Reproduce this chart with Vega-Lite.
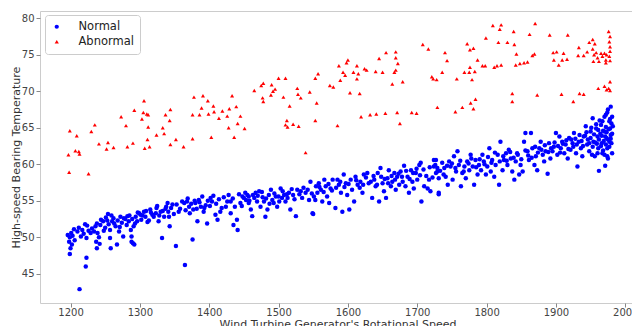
{
  "$schema": "https://vega.github.io/schema/vega-lite/v6.json",
  "width": 595,
  "height": 292,
  "autosize": {"type": "none"},
  "padding": {"left": 40, "top": 11, "right": 0, "bottom": 23},
  "background": "white",
  "config": {
    "font": "DejaVu Sans",
    "view": {"stroke": "#cccccc", "strokeWidth": 1},
    "axis": {"grid": false, "domain": false, "labelFontSize": 10, "labelColor": "#444444", "tickColor": "#888888", "tickSize": 4, "labelPadding": 2, "titleFontSize": 11, "titleFontWeight": "normal", "titleColor": "#333333"}
  },
  "datasets": {
    "normal": [
{"x":1213,"y":42.9},{"x":1222,"y":46.0},{"x":1223,"y":47.2},{"x":1199,"y":47.7},{"x":1200,"y":48.5},{"x":1202,"y":49.0},{"x":1198,"y":49.4},{"x":1196,"y":50.3},{"x":1199,"y":50.0},{"x":1201,"y":50.6},{"x":1205,"y":51.1},{"x":1210,"y":50.8},{"x":1217,"y":51.0},{"x":1219,"y":50.5},{"x":1223,"y":49.9},{"x":1224,"y":51.6},{"x":1229,"y":50.6},{"x":1234,"y":50.8},{"x":1236,"y":51.5},{"x":1238,"y":51.9},{"x":1243,"y":51.7},{"x":1237,"y":49.4},{"x":1238,"y":48.5},{"x":1242,"y":49.1},{"x":1241,"y":50.0},{"x":1247,"y":52.2},{"x":1250,"y":51.3},{"x":1254,"y":53.2},{"x":1253,"y":52.3},{"x":1257,"y":51.0},{"x":1257,"y":49.9},{"x":1258,"y":48.5},{"x":1260,"y":52.2},{"x":1262,"y":52.6},{"x":1265,"y":51.5},{"x":1267,"y":49.0},{"x":1270,"y":50.8},{"x":1272,"y":52.8},{"x":1274,"y":52.0},{"x":1276,"y":50.1},{"x":1279,"y":52.5},{"x":1282,"y":52.9},{"x":1284,"y":52.2},{"x":1287,"y":51.0},{"x":1288,"y":50.1},{"x":1288,"y":49.4},{"x":1290,"y":49.2},{"x":1292,"y":49.0},{"x":1291,"y":51.5},{"x":1294,"y":52.8},{"x":1296,"y":52.2},{"x":1299,"y":53.3},{"x":1301,"y":53.1},{"x":1306,"y":53.5},{"x":1308,"y":52.8},{"x":1313,"y":52.3},{"x":1315,"y":53.8},{"x":1318,"y":53.1},{"x":1323,"y":53.3},{"x":1325,"y":54.3},{"x":1327,"y":52.2},{"x":1330,"y":53.5},{"x":1332,"y":49.9},{"x":1335,"y":52.8},{"x":1337,"y":53.9},{"x":1340,"y":54.7},{"x":1342,"y":52.8},{"x":1343,"y":51.5},{"x":1347,"y":54.5},{"x":1352,"y":48.8},{"x":1356,"y":53.5},{"x":1364,"y":54.7},{"x":1365,"y":46.2},{"x":1368,"y":54.9},{"x":1371,"y":54.2},{"x":1372,"y":53.3},{"x":1376,"y":49.7},{"x":1377,"y":53.8},{"x":1380,"y":54.7},{"x":1383,"y":52.2},{"x":1385,"y":55.1},{"x":1388,"y":54.2},{"x":1392,"y":53.5},{"x":1395,"y":54.4},{"x":1397,"y":51.9},{"x":1402,"y":55.4},{"x":1404,"y":54.9},{"x":1409,"y":53.1},{"x":1412,"y":52.4},{"x":1416,"y":53.5},{"x":1424,"y":54.2},{"x":1428,"y":55.8},{"x":1431,"y":54.9},{"x":1431,"y":53.3},{"x":1435,"y":51.7},{"x":1440,"y":52.4},{"x":1441,"y":51.0},{"x":1445,"y":54.7},{"x":1450,"y":55.4},{"x":1457,"y":55.6},
{"x":1448,"y":55.6},{"x":1453,"y":55.1},{"x":1455,"y":55.8},{"x":1457,"y":54.7},{"x":1460,"y":53.8},{"x":1462,"y":52.9},{"x":1465,"y":55.4},{"x":1467,"y":56.1},{"x":1469,"y":54.9},{"x":1472,"y":56.3},{"x":1474,"y":54.2},{"x":1477,"y":55.5},{"x":1479,"y":54.9},{"x":1481,"y":52.8},{"x":1484,"y":53.8},{"x":1486,"y":55.8},{"x":1489,"y":56.5},{"x":1491,"y":55.1},{"x":1493,"y":54.7},{"x":1496,"y":55.6},{"x":1498,"y":54.2},{"x":1501,"y":54.9},{"x":1503,"y":56.7},{"x":1505,"y":55.4},{"x":1508,"y":55.8},{"x":1510,"y":54.9},{"x":1513,"y":55.4},{"x":1515,"y":56.1},{"x":1517,"y":53.8},{"x":1521,"y":55.8},{"x":1525,"y":52.9},{"x":1527,"y":56.5},{"x":1532,"y":56.3},{"x":1534,"y":55.4},{"x":1539,"y":56.1},{"x":1544,"y":55.1},{"x":1546,"y":57.6},{"x":1549,"y":53.3},{"x":1551,"y":55.6},{"x":1554,"y":57.0},{"x":1556,"y":56.1},{"x":1558,"y":57.4},{"x":1561,"y":56.5},{"x":1563,"y":54.9},{"x":1566,"y":57.9},{"x":1568,"y":57.0},{"x":1570,"y":55.6},{"x":1573,"y":54.7},{"x":1575,"y":56.7},{"x":1578,"y":57.9},{"x":1582,"y":54.0},{"x":1585,"y":57.9},{"x":1587,"y":57.2},{"x":1590,"y":56.1},{"x":1592,"y":53.5},{"x":1594,"y":58.6},{"x":1597,"y":57.4},{"x":1599,"y":55.8},{"x":1602,"y":53.8},{"x":1604,"y":57.9},{"x":1609,"y":54.9},{"x":1611,"y":58.3},{"x":1614,"y":57.2},{"x":1618,"y":57.6},{"x":1621,"y":56.1},{"x":1623,"y":58.6},{"x":1628,"y":58.8},{"x":1630,"y":57.4},{"x":1635,"y":55.4},{"x":1638,"y":57.9},{"x":1640,"y":57.0},{"x":1643,"y":58.8},{"x":1645,"y":54.9},{"x":1647,"y":59.5},{"x":1650,"y":57.4},{"x":1652,"y":56.3},{"x":1655,"y":55.4},{"x":1657,"y":58.1},{"x":1659,"y":59.2},{"x":1662,"y":57.0},{"x":1664,"y":57.6},{"x":1667,"y":58.8},{"x":1669,"y":56.5},{"x":1671,"y":58.3},{"x":1674,"y":57.2},{"x":1676,"y":59.0},{"x":1679,"y":57.6},{"x":1681,"y":59.8},{"x":1683,"y":57.0},{"x":1686,"y":58.3},{"x":1688,"y":56.1},{"x":1691,"y":59.2},{"x":1693,"y":57.6},{"x":1695,"y":56.7},{"x":1698,"y":58.8},{"x":1700,"y":57.9},{"x":1703,"y":59.9},{"x":1705,"y":60.2},{"x":1706,"y":54.9},{"x":1710,"y":57.0},{"x":1715,"y":56.7},{"x":1717,"y":57.9},{"x":1719,"y":56.3},{"x":1724,"y":60.6},{"x":1727,"y":58.8},{"x":1729,"y":59.5},{"x":1731,"y":56.1},{"x":1550,"y":53.2},
{"x":1731,"y":55.9},{"x":1727,"y":60.6},{"x":1724,"y":59.7},{"x":1729,"y":59.0},{"x":1731,"y":58.1},{"x":1736,"y":60.2},{"x":1739,"y":59.5},{"x":1741,"y":58.3},{"x":1744,"y":57.2},{"x":1746,"y":60.4},{"x":1748,"y":59.7},{"x":1751,"y":57.9},{"x":1753,"y":61.1},{"x":1756,"y":59.0},{"x":1758,"y":61.8},{"x":1760,"y":59.9},{"x":1763,"y":57.0},{"x":1765,"y":58.8},{"x":1768,"y":59.7},{"x":1770,"y":58.1},{"x":1772,"y":60.4},{"x":1775,"y":59.2},{"x":1777,"y":61.3},{"x":1780,"y":59.7},{"x":1782,"y":57.2},{"x":1784,"y":60.6},{"x":1787,"y":58.6},{"x":1789,"y":59.9},{"x":1792,"y":59.2},{"x":1794,"y":61.3},{"x":1796,"y":60.4},{"x":1799,"y":58.6},{"x":1801,"y":59.7},{"x":1804,"y":62.2},{"x":1806,"y":59.0},{"x":1808,"y":60.6},{"x":1811,"y":58.3},{"x":1813,"y":59.9},{"x":1816,"y":61.3},{"x":1818,"y":57.2},{"x":1820,"y":63.1},{"x":1823,"y":59.2},{"x":1825,"y":60.6},{"x":1828,"y":61.5},{"x":1830,"y":59.9},{"x":1832,"y":62.0},{"x":1835,"y":60.8},{"x":1837,"y":59.0},{"x":1840,"y":57.9},{"x":1842,"y":60.4},{"x":1844,"y":61.5},{"x":1847,"y":58.6},{"x":1849,"y":59.9},{"x":1852,"y":59.0},{"x":1854,"y":63.1},{"x":1856,"y":64.3},{"x":1859,"y":61.8},{"x":1861,"y":60.6},{"x":1864,"y":64.3},{"x":1866,"y":62.2},{"x":1869,"y":59.9},{"x":1871,"y":61.1},{"x":1873,"y":59.2},{"x":1876,"y":62.2},{"x":1878,"y":63.1},{"x":1881,"y":61.3},{"x":1883,"y":60.4},{"x":1885,"y":61.8},{"x":1888,"y":58.7},{"x":1890,"y":62.9},{"x":1892,"y":60.8},{"x":1895,"y":61.8},{"x":1897,"y":62.4},{"x":1900,"y":64.3},{"x":1902,"y":61.3},{"x":1905,"y":63.8},{"x":1907,"y":62.2},{"x":1909,"y":63.1},{"x":1912,"y":61.5},{"x":1914,"y":62.7},{"x":1917,"y":60.8},{"x":1919,"y":63.6},{"x":1921,"y":62.0},{"x":1924,"y":62.9},{"x":1926,"y":64.3},{"x":1929,"y":61.5},{"x":1931,"y":59.7},{"x":1933,"y":63.1},{"x":1936,"y":62.2},{"x":1938,"y":61.1},{"x":1940,"y":63.8},{"x":1943,"y":65.2},{"x":1945,"y":62.7},{"x":1948,"y":61.8},{"x":1950,"y":64.5},{"x":1953,"y":66.3},{"x":1954,"y":63.1},{"x":1956,"y":61.1},{"x":1958,"y":64.9},{"x":1960,"y":63.8},{"x":1961,"y":62.2},{"x":1962,"y":59.1},{"x":1965,"y":65.4},{"x":1966,"y":62.9},{"x":1967,"y":61.5},{"x":1970,"y":64.5},{"x":1971,"y":59.8},{"x":1972,"y":66.8},{"x":1973,"y":63.6},{"x":1974,"y":62.2},{"x":1975,"y":67.5},{"x":1977,"y":65.9},{"x":1978,"y":64.9},{"x":1979,"y":67.9},{"x":1979,"y":64.0},{"x":1980,"y":62.9},{"x":1981,"y":66.5},{"x":1981,"y":61.5},{"x":1982,"y":65.2},{"x":1974,"y":61.1},{"x":1970,"y":61.3},{"x":1977,"y":63.1},{"x":1972,"y":62.7},
{"x":1203,"y":50.2},{"x":1206,"y":49.6},{"x":1212,"y":51.3},{"x":1215,"y":50.1},{"x":1221,"y":51.8},{"x":1226,"y":50.9},{"x":1231,"y":51.2},{"x":1239,"y":50.6},{"x":1244,"y":52.4},{"x":1248,"y":50.9},{"x":1251,"y":52.7},{"x":1255,"y":51.8},{"x":1259,"y":53.0},{"x":1263,"y":51.9},{"x":1268,"y":52.3},{"x":1271,"y":51.4},{"x":1277,"y":52.6},{"x":1281,"y":51.7},{"x":1285,"y":53.0},{"x":1289,"y":52.5},{"x":1293,"y":51.9},{"x":1297,"y":53.4},{"x":1302,"y":52.4},{"x":1304,"y":53.0},{"x":1309,"y":53.6},{"x":1311,"y":52.1},{"x":1316,"y":53.4},{"x":1320,"y":52.8},{"x":1324,"y":54.0},{"x":1328,"y":53.0},{"x":1333,"y":53.6},{"x":1338,"y":54.2},{"x":1341,"y":53.5},{"x":1345,"y":54.0},{"x":1349,"y":53.2},{"x":1353,"y":54.5},{"x":1358,"y":53.9},{"x":1361,"y":54.9},{"x":1366,"y":53.7},{"x":1369,"y":55.3},{"x":1374,"y":54.6},{"x":1379,"y":55.0},{"x":1382,"y":53.9},{"x":1386,"y":54.8},{"x":1390,"y":55.6},{"x":1393,"y":54.0},{"x":1398,"y":55.0},{"x":1401,"y":54.3},{"x":1406,"y":55.7},{"x":1410,"y":54.6},{"x":1414,"y":55.2},{"x":1418,"y":54.0},{"x":1421,"y":55.5},{"x":1426,"y":54.9},{"x":1434,"y":55.3},{"x":1437,"y":54.2},{"x":1443,"y":55.9},{"x":1447,"y":54.3},{"x":1452,"y":56.1},{"x":1458,"y":55.0},{"x":1463,"y":55.8},{"x":1470,"y":55.7},{"x":1476,"y":56.2},{"x":1482,"y":55.3},{"x":1487,"y":54.6},{"x":1494,"y":56.0},{"x":1500,"y":55.6},{"x":1506,"y":56.3},{"x":1512,"y":55.9},{"x":1519,"y":56.6},{"x":1523,"y":55.2},{"x":1530,"y":55.9},{"x":1536,"y":56.8},{"x":1542,"y":56.5},{"x":1548,"y":56.0},{"x":1553,"y":55.1},{"x":1559,"y":56.9},{"x":1565,"y":56.2},{"x":1572,"y":57.3},{"x":1577,"y":56.4},{"x":1583,"y":56.8},{"x":1589,"y":57.6},{"x":1595,"y":56.9},{"x":1601,"y":57.3},{"x":1606,"y":56.5},{"x":1612,"y":57.8},{"x":1617,"y":56.8},{"x":1622,"y":57.2},{"x":1626,"y":58.2},{"x":1633,"y":57.6},{"x":1637,"y":58.4},{"x":1642,"y":57.2},{"x":1648,"y":58.3},{"x":1653,"y":58.0},{"x":1658,"y":57.4},{"x":1663,"y":58.4},{"x":1668,"y":57.9},{"x":1673,"y":58.7},{"x":1678,"y":58.3},{"x":1684,"y":59.1},{"x":1689,"y":58.0},{"x":1694,"y":58.8},{"x":1699,"y":59.4},{"x":1704,"y":58.5},{"x":1709,"y":59.3},{"x":1713,"y":58.4},{"x":1718,"y":59.6},{"x":1722,"y":58.2},{"x":1726,"y":59.9},{"x":1733,"y":59.1},{"x":1738,"y":58.6},{"x":1743,"y":59.8},{"x":1750,"y":60.1},{"x":1755,"y":59.5},{"x":1762,"y":60.5},{"x":1767,"y":59.0},{"x":1774,"y":60.1},{"x":1778,"y":60.8},{"x":1785,"y":59.6},{"x":1790,"y":60.7},{"x":1797,"y":60.0},{"x":1802,"y":61.0},{"x":1807,"y":60.2},{"x":1812,"y":61.6},{"x":1819,"y":60.4},{"x":1824,"y":61.1},{"x":1829,"y":60.5},{"x":1834,"y":61.7},{"x":1839,"y":60.9},{"x":1845,"y":61.3},{"x":1850,"y":60.7},{"x":1856,"y":61.9},{"x":1860,"y":61.2},{"x":1865,"y":60.9},{"x":1870,"y":62.4},{"x":1874,"y":61.6},{"x":1879,"y":62.0},{"x":1884,"y":62.6},{"x":1889,"y":61.7},{"x":1893,"y":62.2},{"x":1898,"y":63.0},{"x":1903,"y":62.5},{"x":1906,"y":61.6},{"x":1910,"y":62.8},{"x":1915,"y":63.3},{"x":1918,"y":62.1},{"x":1922,"y":63.4},{"x":1925,"y":62.4},{"x":1928,"y":63.5},{"x":1930,"y":62.7},{"x":1934,"y":64.0},{"x":1937,"y":63.2},{"x":1939,"y":62.5},{"x":1942,"y":63.9},{"x":1944,"y":64.4},{"x":1946,"y":63.4},{"x":1948,"y":62.9},{"x":1950,"y":63.6},{"x":1951,"y":65.0},{"x":1953,"y":62.4},{"x":1955,"y":64.1},{"x":1957,"y":63.0},{"x":1958,"y":65.5},{"x":1959,"y":62.8},{"x":1961,"y":64.7},{"x":1962,"y":63.4},{"x":1963,"y":66.0},{"x":1964,"y":64.2},{"x":1965,"y":62.5},{"x":1966,"y":63.9},{"x":1967,"y":65.9},{"x":1968,"y":64.6},{"x":1969,"y":63.2},{"x":1970,"y":66.5},{"x":1971,"y":63.8},{"x":1972,"y":65.1},{"x":1973,"y":64.4},{"x":1974,"y":67.1},{"x":1975,"y":63.4},{"x":1976,"y":64.8},{"x":1977,"y":62.4},{"x":1978,"y":66.2},{"x":1979,"y":63.5},{"x":1980,"y":65.6},{"x":1981,"y":64.2},{"x":1975,"y":60.8},{"x":1968,"y":61.9},{"x":1960,"y":61.5},{"x":1952,"y":61.3}
    ],
    "abnormal": [
{"x":1199,"y":64.6},{"x":1209,"y":63.9},{"x":1197,"y":61.3},{"x":1207,"y":61.85},{"x":1212,"y":61.75},{"x":1213,"y":61.4},{"x":1198,"y":58.9},{"x":1226,"y":58.7},{"x":1230,"y":64.5},{"x":1235,"y":65.4},{"x":1241,"y":62.8},{"x":1254,"y":63.0},{"x":1252,"y":62.1},{"x":1262,"y":62.3},{"x":1273,"y":66.5},{"x":1280,"y":65.3},{"x":1282,"y":62.4},{"x":1290,"y":62.9},{"x":1292,"y":67.4},{"x":1306,"y":68.7},{"x":1305,"y":67.1},{"x":1303,"y":66.2},{"x":1310,"y":66.9},{"x":1312,"y":66.8},{"x":1312,"y":65.1},{"x":1311,"y":63.4},{"x":1307,"y":62.2},{"x":1314,"y":62.4},{"x":1324,"y":64.0},{"x":1333,"y":65.0},{"x":1335,"y":64.2},{"x":1337,"y":66.8},{"x":1344,"y":67.5},{"x":1343,"y":66.0},{"x":1344,"y":62.7},{"x":1352,"y":63.4},{"x":1363,"y":62.4},{"x":1376,"y":63.5},{"x":1376,"y":66.8},{"x":1378,"y":69.2},{"x":1386,"y":66.8},{"x":1391,"y":69.4},{"x":1398,"y":68.7},{"x":1389,"y":67.7},{"x":1399,"y":66.9},{"x":1406,"y":68.0},{"x":1407,"y":67.2},{"x":1414,"y":66.3},{"x":1419,"y":67.3},{"x":1426,"y":66.6},{"x":1429,"y":67.6},{"x":1433,"y":69.4},{"x":1428,"y":65.0},{"x":1436,"y":63.7},{"x":1403,"y":63.7},{"x":1441,"y":65.6},{"x":1439,"y":67.9},
{"x":1445,"y":66.6},{"x":1451,"y":64.9},{"x":1465,"y":70.1},{"x":1475,"y":70.8},{"x":1478,"y":71.1},{"x":1477,"y":69.1},{"x":1478,"y":68.6},{"x":1490,"y":70.9},{"x":1492,"y":70.0},{"x":1495,"y":70.3},{"x":1489,"y":69.5},{"x":1500,"y":71.8},{"x":1510,"y":71.8},{"x":1507,"y":69.2},{"x":1516,"y":68.0},{"x":1512,"y":66.0},{"x":1510,"y":65.4},{"x":1513,"y":65.1},{"x":1521,"y":65.5},{"x":1529,"y":65.2},{"x":1527,"y":70.4},{"x":1528,"y":69.6},{"x":1532,"y":69.1},{"x":1545,"y":69.9},{"x":1555,"y":68.4},{"x":1553,"y":66.0},{"x":1553,"y":71.8},{"x":1557,"y":72.4},{"x":1574,"y":70.8},{"x":1579,"y":70.6},{"x":1585,"y":65.3},{"x":1589,"y":71.5},{"x":1587,"y":73.5},{"x":1593,"y":72.6},{"x":1596,"y":72.2},{"x":1598,"y":73.9},{"x":1600,"y":74.3},{"x":1603,"y":69.8},{"x":1608,"y":72.6},{"x":1613,"y":73.5},{"x":1615,"y":72.4},{"x":1613,"y":71.7},{"x":1617,"y":69.7},{"x":1619,"y":66.5},{"x":1624,"y":73.1},{"x":1627,"y":72.9},{"x":1632,"y":66.8},{"x":1640,"y":72.7},{"x":1641,"y":66.9},{"x":1645,"y":74.5},{"x":1650,"y":72.6},{"x":1654,"y":67.0},{"x":1655,"y":75.3},{"x":1664,"y":71.0},{"x":1667,"y":72.6},{"x":1669,"y":72.9},{"x":1669,"y":74.6},{"x":1669,"y":75.4},{"x":1672,"y":73.8},{"x":1671,"y":67.1},{"x":1675,"y":65.6},{"x":1679,"y":71.3},{"x":1692,"y":67.1},{"x":1699,"y":67.0},{"x":1708,"y":76.4},{"x":1716,"y":75.8},{"x":1721,"y":72.0},{"x":1723,"y":71.7},{"x":1728,"y":71.6},{"x":1729,"y":67.8},{"x":1539,"y":61.6},
{"x":1740,"y":75.3},{"x":1743,"y":74.2},{"x":1736,"y":72.6},{"x":1757,"y":71.7},{"x":1755,"y":67.2},{"x":1765,"y":67.8},{"x":1768,"y":72.6},{"x":1776,"y":73.3},{"x":1775,"y":72.6},{"x":1783,"y":72.7},{"x":1779,"y":71.6},{"x":1777,"y":68.4},{"x":1781,"y":67.6},{"x":1784,"y":68.9},{"x":1772,"y":76.5},{"x":1776,"y":75.7},{"x":1781,"y":75.9},{"x":1787,"y":74.3},{"x":1794,"y":73.5},{"x":1798,"y":73.5},{"x":1799,"y":77.3},{"x":1809,"y":79.0},{"x":1821,"y":79.1},{"x":1819,"y":78.5},{"x":1811,"y":73.3},{"x":1815,"y":73.5},{"x":1821,"y":73.6},{"x":1817,"y":76.7},{"x":1830,"y":76.7},{"x":1839,"y":78.2},{"x":1840,"y":76.4},{"x":1837,"y":69.7},{"x":1837,"y":68.6},{"x":1843,"y":75.1},{"x":1842,"y":73.6},{"x":1848,"y":73.8},{"x":1854,"y":73.9},{"x":1859,"y":74.0},{"x":1862,"y":77.8},{"x":1866,"y":74.9},{"x":1869,"y":75.1},{"x":1870,"y":79.3},{"x":1873,"y":69.5},{"x":1891,"y":77.7},{"x":1896,"y":75.3},{"x":1901,"y":75.4},{"x":1897,"y":74.3},{"x":1904,"y":73.6},{"x":1909,"y":74.3},{"x":1911,"y":75.2},{"x":1917,"y":77.7},{"x":1916,"y":74.4},{"x":1908,"y":69.6},{"x":1925,"y":68.6},{"x":1932,"y":74.9},{"x":1933,"y":76.0},{"x":1934,"y":69.7},{"x":1940,"y":69.6},{"x":1940,"y":74.9},{"x":1945,"y":75.4},{"x":1948,"y":76.7},{"x":1953,"y":77.1},{"x":1956,"y":76.5},{"x":1953,"y":75.8},{"x":1955,"y":75.0},{"x":1958,"y":75.3},{"x":1954,"y":74.1},{"x":1960,"y":74.6},{"x":1965,"y":75.2},{"x":1967,"y":74.8},{"x":1970,"y":75.2},{"x":1972,"y":74.3},{"x":1976,"y":78.2},{"x":1978,"y":77.5},{"x":1977,"y":76.8},{"x":1978,"y":76.1},{"x":1978,"y":75.5},{"x":1977,"y":74.8},{"x":1973,"y":75.0},{"x":1978,"y":74.2},{"x":1972,"y":73.9},{"x":1962,"y":74.1},{"x":1961,"y":70.4},{"x":1970,"y":70.7},{"x":1973,"y":70.2},{"x":1978,"y":70.1},{"x":1978,"y":71.3},{"x":1976,"y":70.4}
    ]
  },
  "encoding": {
    "x": {"field": "x", "type": "quantitative", "scale": {"domain": [1156, 2014], "nice": false, "zero": false}, "axis": {"values": [1200, 1300, 1400, 1500, 1600, 1700, 1800, 1900, 2000], "format": "d", "labelPadding": 0, "title": "Wind Turbine Generator's Rotational Speed", "titleY": 15, "titleBaseline": "top"}},
    "y": {"field": "y", "type": "quantitative", "scale": {"domain": [41, 81], "nice": false, "zero": false}, "axis": {"values": [45, 50, 55, 60, 65, 70, 75, 80], "title": "High-speed Bearing Temperature", "titleX": -30, "titleBaseline": "top"}},
    "color": {"type": "nominal", "scale": {"domain": ["Normal", "Abnormal"], "range": ["#0000ff", "#ff0000"]}, "legend": {"title": null, "orient": "none", "legendX": 5, "legendY": 4, "strokeColor": "#cccccc", "fillColor": "white", "cornerRadius": 3, "padding": 6, "labelFontSize": 11.5, "labelColor": "#222222", "symbolSize": 18, "rowPadding": 2, "labelOffset": 16}},
    "shape": {"type": "nominal", "scale": {"domain": ["Normal", "Abnormal"], "range": ["circle", "triangle-up"]}, "legend": {"title": null, "orient": "none", "legendX": 5, "legendY": 4, "strokeColor": "#cccccc", "fillColor": "white", "cornerRadius": 3, "padding": 6, "labelFontSize": 11.5, "labelColor": "#222222", "symbolSize": 18, "rowPadding": 2, "labelOffset": 16}}
  },
  "layer": [
    {"data": {"name": "normal"}, "mark": {"type": "point", "filled": true, "opacity": 1, "size": 20}, "encoding": {"color": {"datum": "Normal"}, "shape": {"datum": "Normal"}}},
    {"data": {"name": "abnormal"}, "mark": {"type": "point", "filled": true, "opacity": 1, "size": 16}, "encoding": {"color": {"datum": "Abnormal"}, "shape": {"datum": "Abnormal"}}}
  ]
}
